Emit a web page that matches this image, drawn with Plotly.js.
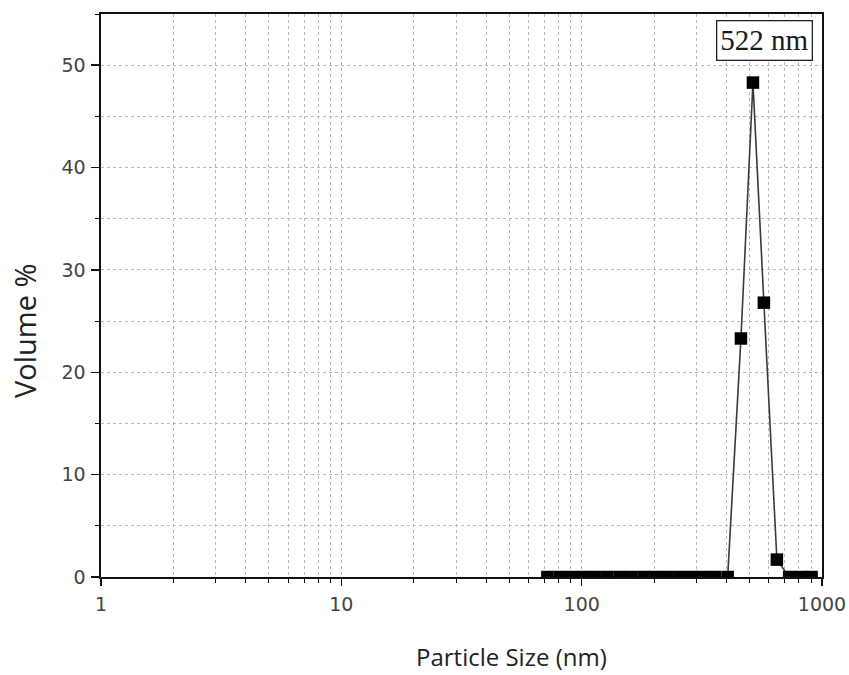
<!DOCTYPE html>
<html>
<head>
<meta charset="utf-8">
<script src="https://cdn.plot.ly/plotly-3.0.1.min.js"></script>
<style>html,body{margin:0;padding:0;background:#fff;}#chart{width:849px;height:675px;}</style>
</head>
<body>
<div id="chart"></div>
<script>
// Particle size (nm) and volume %
var sizes = [72, 81, 91, 102, 114, 128, 144, 161, 181, 203, 227, 255, 286, 320, 359, 405,
             460, 516, 573, 649, 730, 815, 905];
var volume = [0, 0, 0, 0, 0, 0, 0, 0, 0, 0, 0, 0, 0, 0, 0, 0,
              23.3, 48.3, 26.8, 1.7, 0, 0, 0];
var peakLabel = "522 nm";
var xTitle = "Particle Size (nm)";
var yTitle = "Volume %";

var trace = {
  x: sizes, y: volume, type: "scatter", mode: "lines+markers",
  line: {color: "#3a3a3a", width: 1.6},
  marker: {symbol: "square", size: 12.5, color: "#000"},
  cliponaxis: true, hoverinfo: "x+y"
};

var gridC = "#b8b8b8";
var tickFont = {family: "DejaVu Sans", size: 19, color: "#444"};
var layout = {
  width: 849, height: 675,
  margin: {l: 101, r: 27, t: 14, b: 98},
  paper_bgcolor: "#fff", plot_bgcolor: "#fff",
  showlegend: false,
  xaxis: {
    type: "log", range: [0, 3], dtick: 1,
    showline: true, mirror: true, linecolor: "#111", linewidth: 1.6,
    ticks: "outside", ticklen: 7, tickcolor: "#111", tickwidth: 1.5,
    ticklabelstandoff: 3,
    showgrid: true, gridcolor: gridC, griddash: "dot", gridwidth: 1,
    zeroline: false,
    tickfont: tickFont,
    minor: {dtick: "D1", ticks: "outside", ticklen: 4, tickcolor: "#111", tickwidth: 1,
            showgrid: true, gridcolor: gridC, griddash: "dot", gridwidth: 1}
  },
  yaxis: {
    range: [0, 55], dtick: 10,
    showline: true, mirror: true, linecolor: "#111", linewidth: 1.6,
    ticks: "outside", ticklen: 8, tickcolor: "#111", tickwidth: 1.5,
    ticklabelstandoff: 2,
    showgrid: true, gridcolor: gridC, griddash: "dot", gridwidth: 1,
    zeroline: false,
    tickfont: tickFont,
    minor: {dtick: 5, ticks: "outside", ticklen: 4, tickcolor: "#111", tickwidth: 1,
            showgrid: true, gridcolor: gridC, griddash: "dot", gridwidth: 1}
  },
  annotations: [{
    text: peakLabel, xref: "paper", yref: "paper", x: 0.9875, y: 0.989,
    xanchor: "right", yanchor: "top", showarrow: false,
    font: {family: "Liberation Serif", size: 29, color: "#1a1a1a"},
    bordercolor: "#222", borderwidth: 1.3, borderpad: 3, bgcolor: "#fff"
  }, {
    text: xTitle, xref: "paper", yref: "paper", x: 0.570, y: -0.142,
    xanchor: "center", yanchor: "middle", showarrow: false,
    font: {family: "Open Sans", size: 24, color: "#222"}
  }, {
    text: yTitle, xref: "paper", yref: "paper", x: -0.1054, y: 0.437,
    xanchor: "center", yanchor: "middle", showarrow: false, textangle: -90,
    font: {family: "Open Sans", size: 29, color: "#222"}
  }]
};

Plotly.newPlot("chart", [trace], layout, {displayModeBar: false, staticPlot: true});
</script>
</body>
</html>
